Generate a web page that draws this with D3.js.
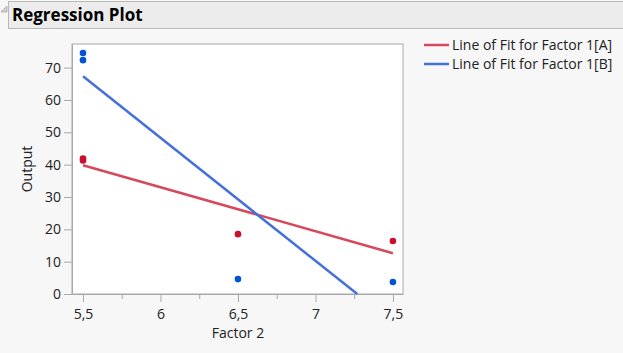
<!DOCTYPE html>
<html>
<head>
<meta charset="utf-8">
<script src="https://cdn.jsdelivr.net/npm/d3@7"></script>
<style>
  body { margin: 0; background: #f7f7f7; font-family: "Open Sans", "Noto Sans", sans-serif; }
</style>
</head>
<body>
<div id="chart"></div>
<script>
// data
var xTicks = [5.5, 6, 6.5, 7, 7.5];
var yTicks = [0, 10, 20, 30, 40, 50, 60, 70];
var groups = ["A", "B"];
var pointsA = [[5.5, 41.9], [5.5, 41.3], [6.5, 18.5], [7.5, 16.4]];
var pointsB = [[5.5, 74.5], [5.5, 72.3], [6.5, 4.6], [7.5, 3.7]];
var fitA = [[5.5, 39.8], [7.5, 12.6]];
var fitB = [[5.5, 67.3], [7.27, 0]];

var dotColor = {A: "#c8102e", B: "#0054d4"};
var lineColor = {A: "#d44a5c", B: "#4470dc"};

var svg = d3.select("#chart").append("svg")
    .attr("width", 623)
    .attr("height", 353)

// header bar
svg.append("rect")
    .attr("x", 8.5).attr("y", 1.5)
    .attr("width", 620).attr("height", 27)
    .attr("fill", "#ececec")
    .attr("stroke", "#b8b8b8")
svg.append("path")
    .attr("d", "M1,12 L7,6 L7,12 Z")
    .attr("fill", "#d0d0d0")
    .attr("stroke", "#999")
    .attr("stroke-width", 0.6)
svg.append("text")
    .attr("x", 12).attr("y", 21)
    .style("font-size", "17px")
    .style("font-weight", "bold")
    .attr("fill", "#000")
    .text("Regression Plot")

var margin = {top: 44, left: 72};
var width = 331, height = 250;

var g = svg.append("g")
    .attr("transform", "translate(" + margin.left + "," + margin.top + ")")

var x = d3.scaleLinear().domain([5.429, 7.565]).range([0, width]);
var y = d3.scaleLinear().domain([0, 77.3]).range([height, 0]);

g.append("rect")
    .attr("width", width).attr("height", height)
    .attr("fill", "#fff")
    .attr("stroke", "#a8a8a8")

var fmt = function (d) { return String(d).replace(".", ","); };

// x axis
var xAxis = g.append("g")
    .attr("transform", "translate(0," + height + ")")
    .call(d3.axisBottom(x).tickValues(xTicks).tickSize(8).tickSizeOuter(0).tickFormat(fmt))
xAxis.select(".domain").attr("stroke", "#a8a8a8")
xAxis.selectAll(".tick line").attr("stroke", "#a8a8a8")
xAxis.selectAll("text").attr("dy", "1.0em").style("font-size", "14px").attr("fill", "#222")
    .style("font-family", "'Open Sans', sans-serif")
g.append("g")
    .attr("transform", "translate(0," + height + ")")
    .call(d3.axisBottom(x).tickValues([5.75, 6.25, 6.75, 7.25]).tickSize(5).tickFormat(""))
    .call(function (s) { s.select(".domain").remove(); s.selectAll("line").attr("stroke", "#a8a8a8"); })

// y axis
var yAxis = g.append("g")
    .call(d3.axisLeft(y).tickValues(yTicks).tickSize(8).tickSizeOuter(0))
yAxis.select(".domain").attr("stroke", "#a8a8a8")
yAxis.selectAll(".tick line").attr("stroke", "#a8a8a8")
yAxis.selectAll("text").attr("x", -11).style("font-size", "14px").attr("fill", "#222")
    .style("font-family", "'Open Sans', sans-serif")

// axis titles
svg.append("text")
    .attr("transform", "translate(32," + (margin.top + height / 2) + ") rotate(-90)")
    .attr("text-anchor", "middle")
    .style("font-size", "14px")
    .attr("fill", "#222")
    .text("Output")
svg.append("text")
    .attr("x", margin.left + x(6.5)).attr("y", 338)
    .attr("text-anchor", "middle")
    .style("font-size", "14px")
    .attr("fill", "#222")
    .text("Factor 2")

// fit lines
var line = d3.line()
    .x(function (d) { return x(d[0]); })
    .y(function (d) { return y(d[1]); })

var fits = {A: fitA, B: fitB};
var pts = {A: pointsA, B: pointsB};

groups.forEach(function (k) {
    g.append("path")
        .datum(fits[k])
        .attr("d", line)
        .attr("fill", "none")
        .attr("stroke", lineColor[k])
        .attr("stroke-width", 2.5)
})
groups.forEach(function (k) {
    g.selectAll(".dot" + k)
        .data(pts[k])
        .enter().append("circle")
        .attr("cx", function (d) { return x(d[0]); })
        .attr("cy", function (d) { return y(d[1]); })
        .attr("r", 3.3)
        .attr("fill", dotColor[k])
})

// legend
var legend = svg.append("g").attr("transform", "translate(424,45)")
groups.forEach(function (k, i) {
    legend.append("line")
        .attr("x1", 0).attr("x2", 25)
        .attr("y1", i * 19).attr("y2", i * 19)
        .attr("stroke", lineColor[k])
        .attr("stroke-width", 2.5)
    legend.append("text")
        .attr("x", 28).attr("y", i * 19 + 5)
        .style("font-size", "14px")
        .attr("fill", "#222")
        .text("Line of Fit for Factor 1[" + k + "]")
})
</script>
</body>
</html>
